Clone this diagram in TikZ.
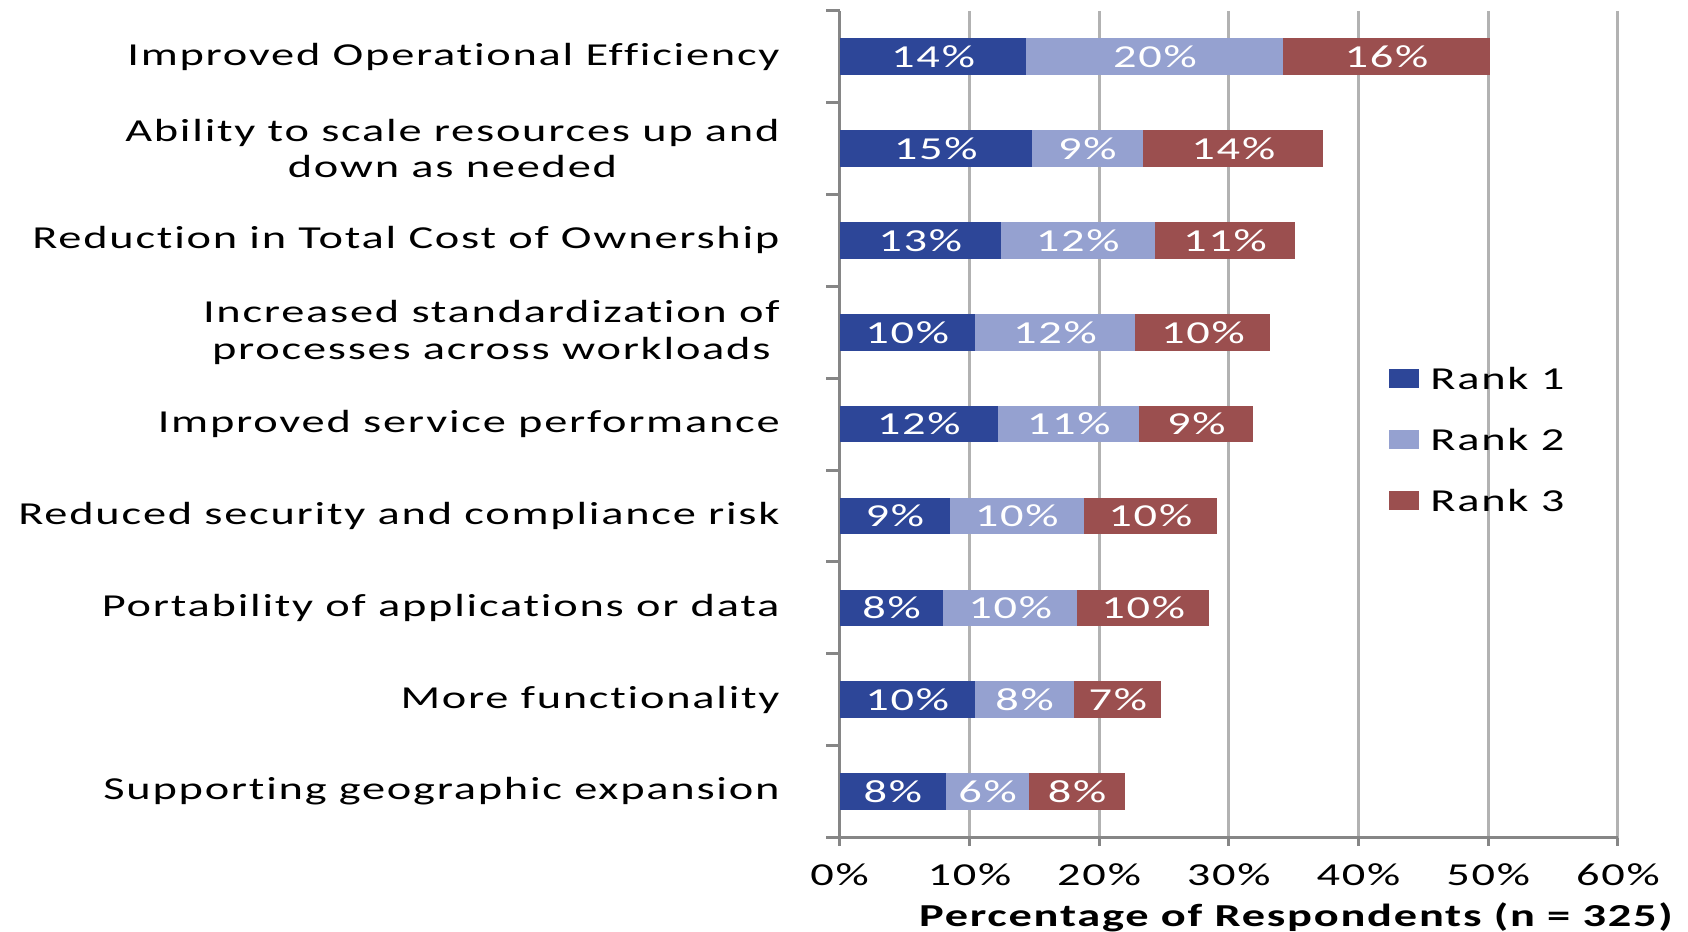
\documentclass[tikz,border=0pt]{standalone}
\usepackage{fontspec}
\setmainfont{Carlito}[FakeStretch=1.45, LetterSpace=5.5, Ligatures=NoCommon]
\usepackage{tikz}
\usetikzlibrary{positioning}
\definecolor{rankOneBlue}{RGB}{45,70,152}
\definecolor{rankTwoBlue}{RGB}{149,161,208}
\definecolor{rankThreeRed}{RGB}{155,79,79}
\definecolor{axisGray}{RGB}{134,134,134}
\definecolor{gridGray}{RGB}{178,178,178}
\tikzset {
	category/.style={anchor=east, align=center, inner sep=0pt, font=\fontsize{16}{18.3}\selectfont},
	barText/.style={text=white, inner sep=0pt, font=\fontsize{16}{18}\selectfont},
	tickText/.style={inner sep=0pt, font=\fontsize{16}{18}\selectfont},
	legendText/.style={anchor=west, inner sep=0pt, font=\fontsize{16}{18}\selectfont},
	gridLine/.style={draw=gridGray, line width=1.5},
	axisLine/.style={draw=axisGray, line width=1.5},
	rankOne/.style={fill=rankOneBlue},
	rankTwo/.style={fill=rankTwoBlue},
	rankThree/.style={fill=rankThreeRed}
}

\begin{document}
\begin{tikzpicture}[x=0.5pt, y=-0.5pt]
	\useasboundingbox (0,0) rectangle (1688,932);
	% grid and axes
	\foreach \p in {1,...,6} {
		\draw[gridLine] (839.7+129.7*\p,10.8) -- (839.7+129.7*\p,837.5);
	}
	\draw[axisLine] (839.7,10.8) -- (839.7,837.5);
	\foreach \k in {0,...,9} {
		\draw[axisLine] (826,10.8+91.85*\k) -- (839.7,10.8+91.85*\k);
	}
	\draw[axisLine] (828,837.5) -- (1618,837.5);
	\foreach \p in {0,...,6} {
		\draw[axisLine] (839.7+129.7*\p,837.5) -- (839.7+129.7*\p,846);
		\pgfmathtruncatemacro{\pv}{10*\p}
		\node[tickText] (tick-\p) at (839.7+129.7*\p,875) {\pv\%};
	}
	\node[tickText, font=\fontsize{16}{18}\selectfont\bfseries] (xTitle) at (1296,917) {Percentage of Respondents (n = 325)};
	% bars
	\foreach \cat/\ra/\rb/\rc/\ta/\tb/\tc [count=\i] in {
		{Improved Operational Efficiency}/14.4/19.8/15.9/14/20/16,
		{Ability to scale resources up and\\down as needed}/14.8/8.6/13.9/15/9/14,
		{Reduction in Total Cost of Ownership}/12.4/11.9/10.8/13/12/11,
		{Increased standardization of\\processes across workloads}/10.4/12.4/10.4/10/12/10,
		{Improved service performance}/12.2/10.9/8.8/12/11/9,
		{Reduced security and compliance risk}/8.5/10.3/10.3/9/10/10,
		{Portability of applications or data}/8.0/10.3/10.2/8/10/10,
		{More functionality}/10.4/7.7/6.7/10/8/7,
		{Supporting geographic expansion}/8.2/6.4/7.4/8/6/8} {
		\pgfmathsetmacro{\yc}{56.7+91.85*(\i-1)}
		\pgfmathsetmacro{\xa}{839.7+12.97*\ra}
		\pgfmathsetmacro{\xb}{\xa+12.97*\rb}
		\pgfmathsetmacro{\xc}{\xb+12.97*\rc}
		\fill[rankOne] (839.7,\yc-18.3) rectangle (\xa,\yc+18.3);
		\fill[rankTwo] (\xa,\yc-18.3) rectangle (\xb,\yc+18.3);
		\fill[rankThree] (\xb,\yc-18.3) rectangle (\xc,\yc+18.3);
		\node[barText] (one-\i) at ({(839.7+\xa)/2},\yc) {\ta\%};
		\node[barText] (two-\i) at ({(\xa+\xb)/2},\yc) {\tb\%};
		\node[barText] (three-\i) at ({(\xb+\xc)/2},\yc) {\tc\%};
		\node[category] (cat-\i) at (780,\yc) {\cat};
	}
	% legend
	\fill[rankOne] (1389,369) rectangle (1419,388);
	\fill[rankTwo] (1389,430) rectangle (1419,449);
	\fill[rankThree] (1389,491) rectangle (1419,510);
	\node[legendText] (leg-1) at (1430,378.5) {Rank 1};
	\node[legendText] (leg-2) at (1430,439.5) {Rank 2};
	\node[legendText] (leg-3) at (1430,500.5) {Rank 3};
\end{tikzpicture}
\end{document}
